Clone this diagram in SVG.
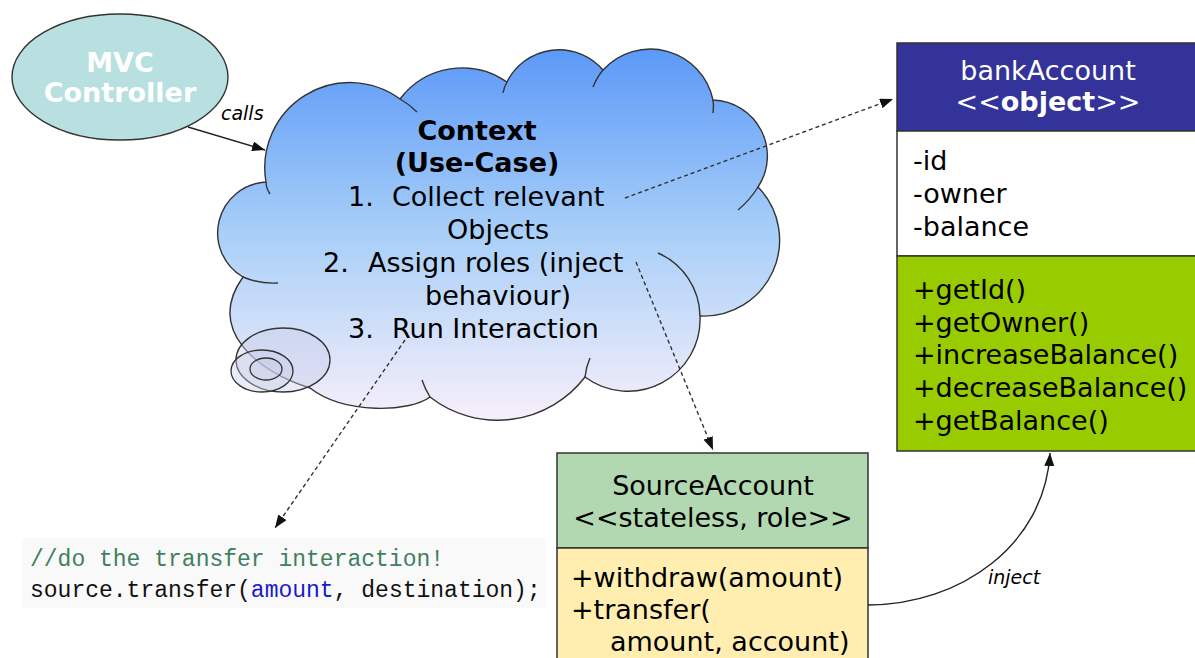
<svg xmlns="http://www.w3.org/2000/svg" width="1195" height="658" viewBox="0 0 1195 658">
<style>
.t{font-family:"DejaVu Sans",Verdana,sans-serif;font-size:27px;fill:#000}
.b{font-weight:bold}
.w{fill:#fff}
.i{font-family:"DejaVu Sans",Verdana,sans-serif;font-style:italic;font-size:19px;fill:#000}
.code{font-family:"Liberation Mono","Courier New",monospace;font-size:23px}
.box{stroke:#333;stroke-width:1.5}
.ol{fill:none;stroke:#333;stroke-width:1.4}
.dash{fill:none;stroke:#333;stroke-width:1.4;stroke-dasharray:4 3}
.solid{fill:none;stroke:#222;stroke-width:1.4}
</style>
<defs>
<linearGradient id="cg" gradientUnits="userSpaceOnUse" x1="0" y1="45" x2="0" y2="420">
<stop offset="0" stop-color="#5a97f8"/>
<stop offset="0.5" stop-color="#a8cff8"/>
<stop offset="1" stop-color="#f7effa"/>
</linearGradient>
<marker id="ah" markerUnits="userSpaceOnUse" markerWidth="14" markerHeight="11" refX="13" refY="5" orient="auto">
<path d="M0,0 L13,5 L0,10 z" fill="#111"/>
</marker>
</defs>
<rect width="1195" height="658" fill="#fff"/>

<g id="mvc-controller">
<ellipse cx="120" cy="77" rx="108" ry="63" fill="#b8e0e0" stroke="#333" stroke-width="1.4"/>
<text class="t b w" x="120" y="72" text-anchor="middle">MVC</text>
<text class="t b w" x="120" y="102" text-anchor="middle">Controller</text>
</g>

<g id="context">
<path d="M266,182 A85,85 0 0 1 400,99 A78,78 0 0 1 507,82 A58,58 0 0 1 603,70 A64,64 0 0 1 713,100 A56,56 0 0 1 758,187 A76,76 0 0 1 700,316 A72,72 0 0 1 585,377 A110,110 0 0 1 430,397 C410,412 345,415 310,388 C258,372 205,330 243,277 A51,51 0 0 1 266,182 Z" fill="url(#cg)" stroke="#333" stroke-width="1.4"/>
<path class="ol" d="M266,182 Q266,188 270,194"/>
<path class="ol" d="M400,99 Q409,104 417,112"/>
<path class="ol" d="M507,82 Q504,87 503,93"/>
<path class="ol" d="M603,70 Q597,77 593,87"/>
<path class="ol" d="M713,100 Q714,106 713,113"/>
<path class="ol" d="M758,187 Q750,200 738,210"/>
<path class="ol" d="M700,316 A70,70 0 0 0 658,253"/>
<path class="ol" d="M585,377 Q586,367 590,358"/>
<path class="ol" d="M430,397 Q425,389 422,380"/>
<path class="ol" d="M243,277 Q259,284 278,283"/>
<ellipse cx="283" cy="360" rx="47" ry="32" fill="#c9cde8" fill-opacity="0.4" stroke="#333" stroke-width="1.3"/>
<ellipse cx="262" cy="371" rx="31" ry="21" fill="#c9cde8" fill-opacity="0.4" stroke="#333" stroke-width="1.3"/>
<ellipse cx="266" cy="369" rx="16" ry="11" fill="#c9cde8" fill-opacity="0.4" stroke="#333" stroke-width="1.3"/>
<text class="t b" x="477" y="140" text-anchor="middle">Context</text>
<text class="t b" x="477" y="172" text-anchor="middle">(Use-Case)</text>
<text class="t" x="348" y="206">1.</text>
<text class="t" x="392" y="206">Collect relevant</text>
<text class="t" x="447" y="239">Objects</text>
<text class="t" x="323" y="272">2.</text>
<text class="t" x="368" y="272">Assign roles (inject</text>
<text class="t" x="425" y="305">behaviour)</text>
<text class="t" x="348" y="338">3.</text>
<text class="t" x="392" y="338">Run Interaction</text>
</g>

<g id="bank-account">
<rect class="box" x="897" y="43" width="310" height="88" fill="#333399"/>
<rect class="box" x="897" y="131" width="310" height="125" fill="#fff"/>
<rect class="box" x="897" y="256" width="310" height="195" fill="#99cc00"/>
<text class="t w" x="1048" y="80" text-anchor="middle">bankAccount</text>
<text class="t w" x="1048" y="111" text-anchor="middle">&lt;&lt;<tspan class="b">object</tspan>&gt;&gt;</text>
<text class="t" x="913" y="170">-id</text>
<text class="t" x="913" y="203">-owner</text>
<text class="t" x="913" y="236">-balance</text>
<text class="t" x="913" y="299">+getId()</text>
<text class="t" x="913" y="332">+getOwner()</text>
<text class="t" x="913" y="364">+increaseBalance()</text>
<text class="t" x="913" y="397">+decreaseBalance()</text>
<text class="t" x="913" y="430">+getBalance()</text>
</g>

<g id="source-account">
<rect class="box" x="557" y="453" width="311" height="95" fill="#b1d8b1"/>
<rect class="box" x="557" y="548" width="311" height="120" fill="#ffeeb0"/>
<text class="t" x="713" y="495" text-anchor="middle">SourceAccount</text>
<text class="t" x="713" y="527" text-anchor="middle">&lt;&lt;stateless, role&gt;&gt;</text>
<text class="t" x="571" y="587">+withdraw(amount)</text>
<text class="t" x="571" y="619">+transfer(</text>
<text class="t" x="610" y="651">amount, account)</text>
</g>

<g id="code">
<rect x="22" y="538" width="524" height="70" fill="#f9f9f9"/>
<text class="code" x="30" y="566" fill="#3f8060">//do the transfer interaction!</text>
<text class="code" x="30" y="597" fill="#111">source.transfer(<tspan fill="#1a1acc">amount</tspan>, destination);</text>
</g>

<g id="connectors">
<path class="solid" d="M188,127 L265,150" marker-end="url(#ah)"/>
<text class="i" x="221" y="120">calls</text>
<path class="dash" d="M625,198 L893,99" marker-end="url(#ah)"/>
<path class="dash" d="M636,262 L713,450" marker-end="url(#ah)"/>
<path class="dash" d="M405,340 L275,528" marker-end="url(#ah)"/>
<path class="solid" d="M868,605 C960,605 1045,545 1050,453" marker-end="url(#ah)"/>
<text class="i" x="988" y="584">inject</text>
</g>
</svg>
